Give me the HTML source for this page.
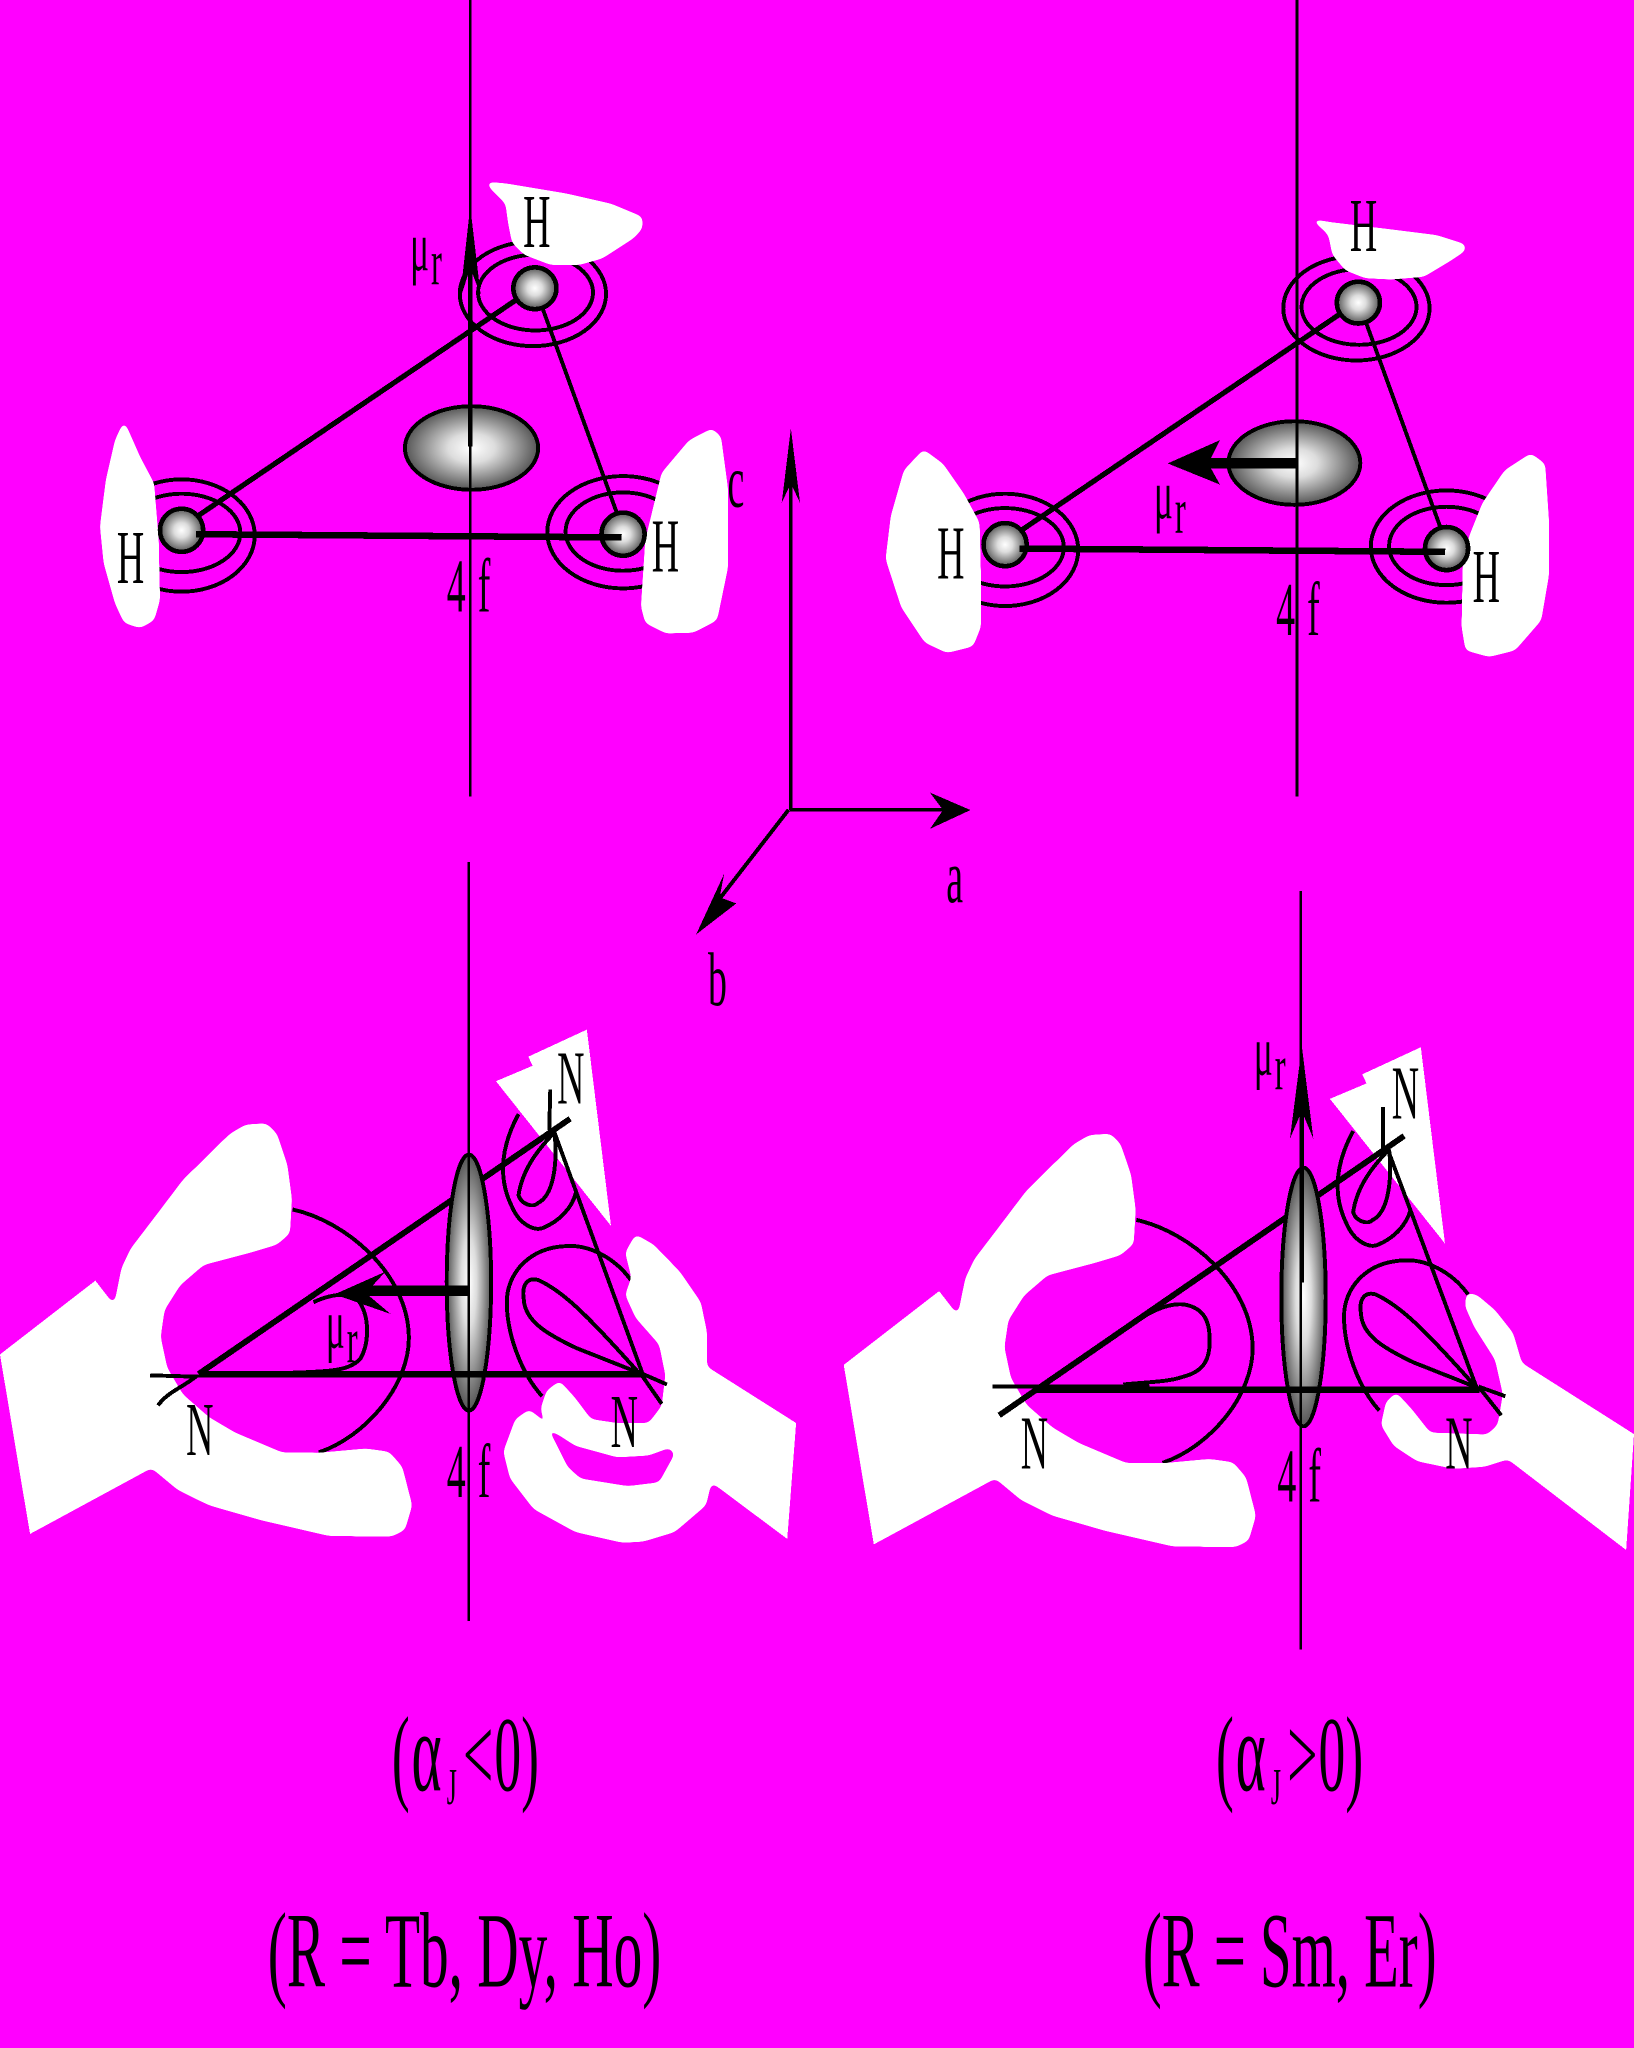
<!DOCTYPE html>
<html>
<head>
<meta charset="utf-8">
<style>
html,body{margin:0;padding:0;background:#ff00ff;}
svg{display:block;}
text{font-family:"Liberation Serif",serif;fill:#000;}
</style>
</head>
<body>
<svg xmlns="http://www.w3.org/2000/svg" width="1634" height="2048" viewBox="0 0 1251 1568" shape-rendering="crispEdges">
<defs>
<filter id="sm" filterUnits="userSpaceOnUse" x="-20" y="-20" width="1300" height="1620">
<feGaussianBlur stdDeviation="2.5"/>
<feComponentTransfer><feFuncA type="linear" slope="30" intercept="-14.5"/></feComponentTransfer>
</filter>
<radialGradient id="g" cx="50%" cy="50%" r="50%">
<stop offset="0" stop-color="#fff"/><stop offset=".35" stop-color="#ddd"/><stop offset="1" stop-color="#555"/>
</radialGradient>
<g id="rings" fill="none" stroke="#000" stroke-width="3">
<ellipse cx="408" cy="225" rx="56" ry="40"/><ellipse cx="410" cy="224" rx="44" ry="29"/>
<ellipse cx="139" cy="410" rx="56" ry="43"/><ellipse cx="139" cy="408" rx="45" ry="30"/>
<ellipse cx="477" cy="407.5" rx="58" ry="43"/><ellipse cx="477" cy="407" rx="44" ry="30"/>
</g>
<g id="tri">
<ellipse cx="409.5" cy="220.7" rx="16.5" ry="16" fill="url(#g)" stroke="#000" stroke-width="3.5"/>
<ellipse cx="139" cy="406" rx="16.5" ry="16.5" fill="url(#g)" stroke="#000" stroke-width="3.5"/>
<ellipse cx="477" cy="409" rx="16.5" ry="16.5" fill="url(#g)" stroke="#000" stroke-width="3.5"/>
<line x1="396" y1="229" x2="150" y2="396" stroke="#000" stroke-width="4"/>
<line x1="415" y1="235" x2="472" y2="392" stroke="#000" stroke-width="3"/>
<line x1="150" y1="409" x2="476" y2="411.5" stroke="#000" stroke-width="5"/>
</g>
<path id="leftBL" d="M224,926 C265,935 312,975 313,1023 C314,1060 280,1100 244,1112" fill="none" stroke="#000" stroke-width="3"/>
<g id="whiteL">
<polygon fill="#fff" filter="url(#sm)" points="0,1037 73,980.5 87.3,999 93,970.8 100,956 120,929.8 140,903.4 176,868 188,861 204,860 212,868 220,891.7 223.5,918 222,944.4 212,953 192,959 156,968.5 138,984 126,1003 123,1023.5 128,1047 140,1067.5 160,1085 180,1096.8 216,1112 244,1112.3 280,1109 298,1111.5 308,1123 315.6,1152.5 310,1171.5 300,1176.5 252,1176 200,1164 160,1152.5 136,1140.7 116,1124 23,1174.4"/>
<polygon fill="#fff" points="0,1037 73,980.5 87.3,999 125,1100 116,1124 23,1174.4"/>
</g>
<path id="innerL" d="M240,997 C255,990 272,988 277,1000 C283,1012 282,1030 276,1040 C268,1050 250,1050 224,1051" fill="none" stroke="#000" stroke-width="3"/>
<path id="outerU" d="M397,853 C385,875 380,900 392,924 C398,938 410,943 416,940 C428,935 438,925 441,913" fill="none" stroke="#000" stroke-width="3"/>
<path id="outerD" d="M483,980 C470,962 450,953 434,954 C405,955 388,975 388,997 C388,1020 398,1050 415,1069" fill="none" stroke="#000" stroke-width="3"/>
<polygon id="triW" fill="#fff" points="449.3,788.3 467.8,938.6 379.7,827.8 407.7,816 404.5,809"/>
<path id="innerU" d="M424.5,867 C412,880 400,895 397,915 C399,922 408,925 412,921 C424,915 427,890 424.5,867" fill="none" stroke="#000" stroke-width="3"/>
<path id="innerD" d="M489,1051 L441,1032 C420,1022 402,1012 401,995 C399,982 405,978 412,980 C430,988 448,1005 489,1051" fill="none" stroke="#000" stroke-width="3"/>
</defs>

<rect width="1251" height="1568" fill="#ff00ff"/>

<!-- top-left panel -->
<use href="#rings"/>
<g fill="#fff" filter="url(#sm)">
<polygon points="371,139 387,140.4 433,148 468,156 492,166 492,175 485,182.5 461,198 443,203 422,203 401,195 392,186 389,171 387,156 376,145"/>
<polygon points="95,322 107.4,350 118,370 121.5,413.5 122.5,459.4 118,475 107.4,481 95,477 88,462 79.3,431 76.5,403 81,367.5 88,337"/>
<polygon points="545,328 552,334 557.5,375 557.5,434 549,475 531,484.4 510,485 494,477 490.7,464.5 494,413.5 506.5,362 527.6,337"/>
</g>
<ellipse cx="361" cy="343" rx="51" ry="32" fill="url(#g)" stroke="#000" stroke-width="3"/>
<use href="#tri"/>
<line x1="360" y1="0" x2="360" y2="610" stroke="#000" stroke-width="2"/>
<line x1="360" y1="190" x2="360" y2="342" stroke="#000" stroke-width="3.5"/>
<polygon points="360,158 368,226 360,205 352,230" fill="#000"/>
<text transform="translate(314,207) scale(.5,1)" font-size="54">μ</text>
<text transform="translate(330,218) scale(.5,1)" font-size="50">r</text>
<text transform="translate(400.5,189) scale(.5,1)" font-size="58">H</text>
<text transform="translate(89.5,446.5) scale(.5,1)" font-size="58">H</text>
<text transform="translate(499,437.5) scale(.5,1)" font-size="58">H</text>
<text transform="translate(342,468) scale(.5,1)" font-size="58" word-spacing="4">4 f</text>
<text transform="translate(557,388) scale(.5,1)" font-size="58">c</text>

<!-- top-right panel -->
<use href="#rings" transform="translate(630.5,11)"/>
<g fill="#fff" filter="url(#sm)">
<polygon points="1002,167 1018,170 1060,175 1100,180 1122,187 1122,192 1110,200 1090,212 1065,214 1045,213 1030,207 1020,195 1017,180 1012,175"/>
<polygon points="707,344 722,355 738,378 750,400 751,440 751,480 745,495 725,500 708,492 690,465 678,428 682,395 692,360"/>
<polygon points="1172,347 1183,355 1186,400 1186,440 1180,475 1160,498 1140,503 1122,498 1119,480 1120,430 1125,410 1135,385 1152,360"/>
</g>
<ellipse cx="991" cy="354.5" rx="50.5" ry="32" fill="url(#g)" stroke="#000" stroke-width="3"/>
<use href="#tri" transform="translate(630.5,11)"/>
<line x1="993" y1="0" x2="993" y2="610" stroke="#000" stroke-width="2"/>
<line x1="993" y1="354.8" x2="925" y2="354.8" stroke="#000" stroke-width="8"/>
<polygon points="894,354.8 934,337 925,354.8 934,371" fill="#000"/>
<text transform="translate(883.5,397) scale(.5,1)" font-size="54">μ</text>
<text transform="translate(899.5,408) scale(.5,1)" font-size="50">r</text>
<text transform="translate(1033.5,192) scale(.5,1)" font-size="58">H</text>
<text transform="translate(717.5,443) scale(.5,1)" font-size="58">H</text>
<text transform="translate(1127.5,461) scale(.5,1)" font-size="58">H</text>
<text transform="translate(977,486) scale(.5,1)" font-size="58" word-spacing="4">4 f</text>

<!-- axes -->
<line x1="605.5" y1="620" x2="605.5" y2="370" stroke="#000" stroke-width="2.6"/>
<polygon points="605.5,328 612.5,385 605.5,370 598.5,385" fill="#000"/>
<line x1="605" y1="620" x2="725" y2="620" stroke="#000" stroke-width="2.6"/>
<polygon points="743,620.2 712,606.8 722,620.2 712,634.6" fill="#000"/>
<line x1="603.7" y1="620" x2="551" y2="688" stroke="#000" stroke-width="3"/>
<polygon points="533,715.4 554.4,669 551,687 563.7,691.7" fill="#000"/>
<text transform="translate(724.5,691) scale(.5,1)" font-size="58">a</text>
<text transform="translate(542,770) scale(.5,1)" font-size="58">b</text>

<!-- bottom-left panel -->
<use href="#leftBL"/>
<use href="#outerU"/>
<use href="#outerD"/>
<use href="#whiteL"/>
<use href="#triW"/>
<polygon fill="#fff" filter="url(#sm)" points="486.6,945 500.6,953 520.6,973.7 536.6,997 541.4,1020.6 541.4,1046.4 609.5,1089.5 602.7,1178.2 544.7,1134.9 540.6,1152.5 516.6,1173 492.6,1180.3 476.6,1181.2 440.5,1173 408.5,1155.4 390.5,1132 385.3,1111.4 394.5,1086.5 405.3,1079 412.5,1085 424.5,1102.7 434.5,1123 444.5,1132 480.6,1137.8 504.6,1134.9 516.6,1113 512.6,1108.5 496.6,1114.4 472.6,1115.8 440.5,1107 420.5,1094 413.7,1079 418.5,1064.6 428.5,1057.2 440.5,1070.4 452.5,1086.5 472.6,1089.5 496.6,1089.5 506.6,1076.3 509.4,1052.8 504.6,1029.4 486.6,1009 478.6,991.3 483.4,978 478.6,959"/>
<polygon fill="#fff" points="541.4,1046.4 609.5,1089.5 602.7,1178.2 544.7,1134.9 530,1100"/>
<use href="#innerL"/>
<use href="#innerU"/>
<use href="#innerD"/>
<line x1="152" y1="1052" x2="436.5" y2="856.5" stroke="#000" stroke-width="4.5"/>
<line x1="424.5" y1="867" x2="491.8" y2="1051.4" stroke="#000" stroke-width="3"/>
<path d="M421.3,834 L420.5,865" fill="none" stroke="#000" stroke-width="3"/>
<path d="M115,1053 L150,1054 C140,1062 128,1066 121,1076" fill="none" stroke="#000" stroke-width="3"/>
<path d="M490,1051 L510.6,1060 M490,1051 L506.6,1074.8" fill="none" stroke="#000" stroke-width="3"/>
<ellipse cx="359" cy="982" rx="17" ry="98" fill="url(#g)" stroke="#000" stroke-width="3"/>
<line x1="152" y1="1052.2" x2="490.6" y2="1052.2" stroke="#000" stroke-width="5"/>
<line x1="359" y1="660" x2="359" y2="1241" stroke="#000" stroke-width="2"/>
<line x1="358.5" y1="988.4" x2="280" y2="988.4" stroke="#000" stroke-width="8"/>
<polygon points="256,991 295,973.7 280,990 299,1006" fill="#000"/>
<text transform="translate(249.5,1032) scale(.5,1)" font-size="54">μ</text>
<text transform="translate(265.5,1043) scale(.5,1)" font-size="50">r</text>
<text transform="translate(142.5,1114) scale(.5,1)" font-size="58">N</text>
<text transform="translate(467.5,1108) scale(.5,1)" font-size="58">N</text>
<text transform="translate(426.5,845) scale(.5,1)" font-size="58">N</text>
<text transform="translate(342,1146) scale(.5,1)" font-size="58" word-spacing="4">4 f</text>

<!-- bottom-right panel -->
<use href="#leftBL" transform="translate(646,8)"/>
<use href="#outerU" transform="translate(639,13)"/>
<use href="#outerD" transform="translate(641,11)"/>
<use href="#whiteL" transform="translate(646,8)"/>
<use href="#triW" transform="translate(638.5,13.5)"/>
<polygon fill="#fff" filter="url(#sm)" points="1122.7,989.8 1130.7,991.3 1144.6,1003 1158.5,1020.6 1165.2,1043.5 1251,1098 1245,1186.7 1154.5,1117.3 1136.6,1123 1112.8,1124.6 1085,1118.8 1067,1107 1057.2,1091 1061.1,1073.3 1069,1066 1081,1079 1095,1096.8 1138.6,1098.3 1146.6,1091 1150.6,1067.5 1144.6,1041 1128.7,1016 1121.6,1000"/>
<polygon fill="#fff" points="1165.2,1043.5 1251,1098 1245,1186.7 1154.5,1117.3 1150,1100"/>
<path d="M874,1009 C885,1002 898,997 908,999 C922,1002 926,1012 926,1024 C927,1040 922,1050 906,1054 C895,1058 880,1058 860,1060" fill="none" stroke="#000" stroke-width="3"/>
<use href="#innerU" transform="translate(639,13)"/>
<use href="#innerD" transform="translate(641,11)"/>
<line x1="765" y1="1083.6" x2="1075" y2="869.7" stroke="#000" stroke-width="4.5"/>
<line x1="1063" y1="881.4" x2="1130.7" y2="1063" stroke="#000" stroke-width="3"/>
<path d="M1059,847.7 L1059,880" fill="none" stroke="#000" stroke-width="3"/>
<path d="M1132,1061.6 L1152.5,1069 M1132,1061.6 L1149.4,1083.6" fill="none" stroke="#000" stroke-width="3"/>
<ellipse cx="998" cy="993" rx="17" ry="99" fill="url(#g)" stroke="#000" stroke-width="3"/>
<line x1="760" y1="1061.5" x2="880" y2="1061.5" stroke="#000" stroke-width="3"/>
<line x1="792.8" y1="1064" x2="1132.7" y2="1064" stroke="#000" stroke-width="5"/>
<line x1="996" y1="682" x2="996" y2="1263" stroke="#000" stroke-width="2"/>
<line x1="996.5" y1="850" x2="996.5" y2="982" stroke="#000" stroke-width="3.5"/>
<polygon points="996.7,801 1005.5,871.8 996.7,850.7 987.6,871.8" fill="#000"/>
<text transform="translate(960,823) scale(.5,1)" font-size="54">μ</text>
<text transform="translate(976,834) scale(.5,1)" font-size="50">r</text>
<text transform="translate(781.5,1124.5) scale(.5,1)" font-size="58">N</text>
<text transform="translate(1106.5,1124.5) scale(.5,1)" font-size="58">N</text>
<text transform="translate(1065.5,856.5) scale(.5,1)" font-size="58">N</text>
<text transform="translate(978,1149.5) scale(.5,1)" font-size="58" word-spacing="4">4 f</text>

<!-- captions -->
<text transform="translate(300,1371) scale(.5,1)" font-size="82"><tspan x="0">(</tspan><tspan x="30" font-size="88">α</tspan><tspan x="84" y="10" font-size="40">J</tspan><tspan x="109" y="0">&lt;</tspan><tspan x="157">0</tspan><tspan x="198">)</tspan></text>
<text transform="translate(931,1371) scale(.5,1)" font-size="82"><tspan x="0">(</tspan><tspan x="30" font-size="88">α</tspan><tspan x="84" y="10" font-size="40">J</tspan><tspan x="109" y="0">&gt;</tspan><tspan x="157">0</tspan><tspan x="198">)</tspan></text>
<text transform="translate(205,1521) scale(.535,1)" font-size="82">(R = Tb, Dy, Ho)</text>
<text transform="translate(875,1521) scale(.53,1)" font-size="82">(R = Sm, Er)</text>
</svg>
</body>
</html>
